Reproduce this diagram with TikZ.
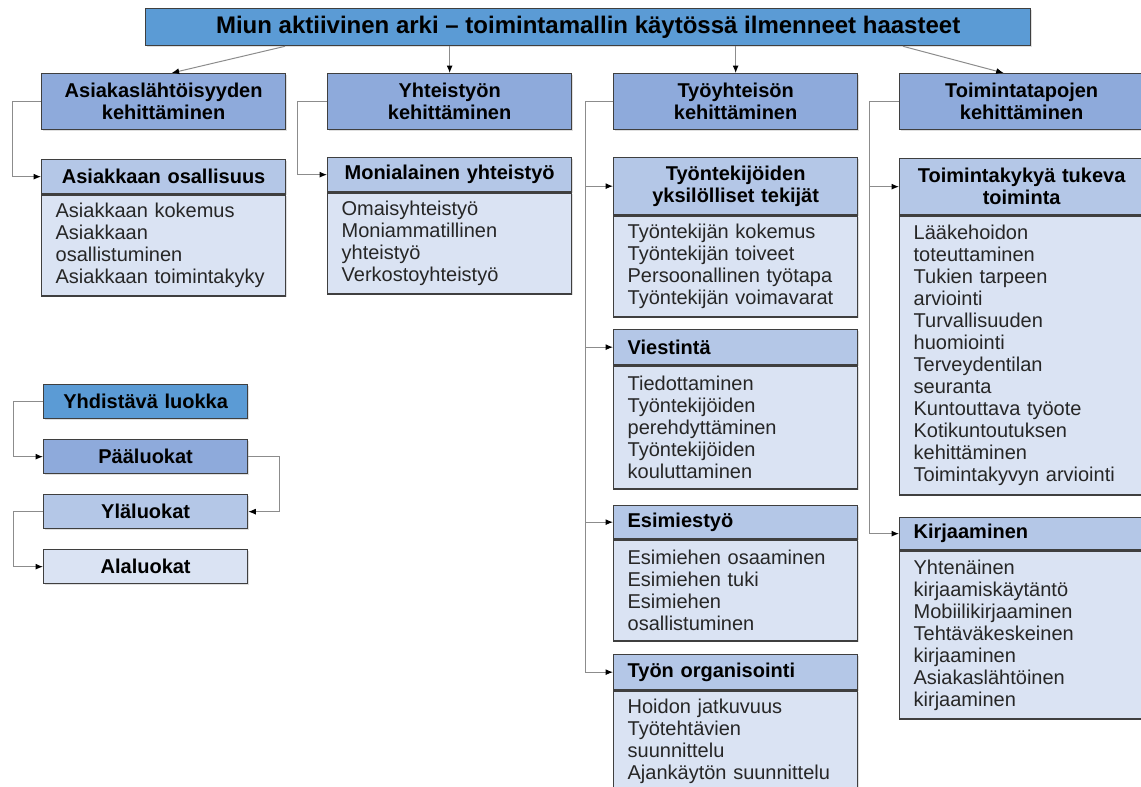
\documentclass[tikz,border=0pt]{standalone}
\usepackage{fontspec}
\setmainfont{Liberation Sans}
\usetikzlibrary{arrows.meta,shadows}
\definecolor{cTitle}{HTML}{5B9BD5}
\definecolor{cMain}{HTML}{8EAADB}
\definecolor{cUpper}{HTML}{B4C7E7}
\definecolor{cSub}{HTML}{DAE3F3}
\definecolor{cBorder}{HTML}{3F3F3F}
\definecolor{cLine}{HTML}{8C8C8C}
\begin{document}
\begin{tikzpicture}[x=1pt,y=-1pt,
  box/.style={draw=cBorder, line width=1.3pt, rectangle, inner sep=0pt, anchor=north west,
    drop shadow={opacity=0.25, shadow xshift=1.5pt, shadow yshift=-1.5pt}},
  bfont/.style={font=\bfseries\fontsize{20}{22}\selectfont},
  titlebox/.style={box, fill=cTitle, minimum width=885pt, minimum height=37pt,
    font=\bfseries\fontsize{24}{28}\selectfont},
  mainbox/.style={box, fill=cMain, text width=244pt, minimum height=56pt, align=center, bfont},
  hdrc/.style={box, fill=cUpper, text width=244pt, align=center, bfont},
  hdrl/.style={box, fill=cUpper, text width=216pt, inner xsep=14pt, align=left, bfont},
  bodybox/.style={box, fill=cSub, text width=216pt, inner xsep=14pt, align=left,
    text=black!85, font=\fontsize{20}{22}\selectfont},
  legbox/.style={box, text width=204pt, minimum height=34pt, align=center, bfont},
  conn/.style={draw=cLine, line width=1pt, -{Latex[length=7.5pt,width=6pt,color=black]}}
]
\useasboundingbox (0,0) rectangle (1141,787);

% title
\node[titlebox] (T) at (145,8) {Miun aktiivinen arki -- toimintamallin käytössä ilmenneet haasteet};

% main categories
\node[mainbox] (A) at (41,73) {Asiakaslähtöisyyden\\kehittäminen};
\node[mainbox] (B) at (327,73) {Yhteistyön\\kehittäminen};
\node[mainbox] (C) at (613,73) {Työyhteisön\\kehittäminen};
\node[mainbox] (D) at (899,73) {Toimintatapojen\\kehittäminen};

% column A
\node[hdrc, minimum height=34pt] (Ah) at (41,159) {Asiakkaan osallisuus};
\node[bodybox, minimum height=101pt] (Ab) at (Ah.south west) {Asiakkaan kokemus\\Asiakkaan\\osallistuminen\\Asiakkaan toimintakyky};

% column B
\node[hdrc, minimum height=34pt] (Bh) at (327,157) {Monialainen yhteistyö};
\node[bodybox, minimum height=101pt] (Bb) at (Bh.south west) {Omaisyhteistyö\\Moniammatillinen\\yhteistyö\\Verkostoyhteistyö};

% column C
\node[hdrc, minimum height=57pt] (C1h) at (613,157) {Työntekijöiden\\yksilölliset tekijät};
\node[bodybox, minimum height=101pt] (C1b) at (C1h.south west) {Työntekijän kokemus\\Työntekijän toiveet\\Persoonallinen työtapa\\Työntekijän voimavarat};
\node[hdrl, minimum height=35pt] (C2h) at (613,329) {Viestintä};
\node[bodybox, minimum height=123pt] (C2b) at (C2h.south west) {Tiedottaminen\\Työntekijöiden\\perehdyttäminen\\Työntekijöiden\\kouluttaminen};
\node[hdrl, minimum height=33pt] (C3h) at (613,505) {Esimiestyö};
\node[bodybox, minimum height=101pt] (C3b) at (C3h.south west) {Esimiehen osaaminen\\Esimiehen tuki\\Esimiehen\\osallistuminen};
\node[hdrl, minimum height=35pt] (C4h) at (613,654) {Työn organisointi};
\node[bodybox, minimum height=101pt] (C4b) at (C4h.south west) {Hoidon jatkuvuus\\Työtehtävien\\suunnittelu\\Ajankäytön suunnittelu};

% column D
\node[hdrc, minimum height=56pt] (D1h) at (899,158) {Toimintakykyä tukeva\\toiminta};
\node[bodybox, minimum height=279pt] (D1b) at (D1h.south west) {Lääkehoidon\\toteuttaminen\\Tukien tarpeen\\arviointi\\Turvallisuuden\\huomiointi\\Terveydentilan\\seuranta\\Kuntouttava työote\\Kotikuntoutuksen\\kehittäminen\\Toimintakyvyn arviointi};
\node[hdrl, minimum height=32pt] (D2h) at (899,517) {Kirjaaminen};
\node[bodybox, minimum height=168pt] (D2b) at (D2h.south west) {Yhtenäinen\\kirjaamiskäytäntö\\Mobiilikirjaaminen\\Tehtäväkeskeinen\\kirjaaminen\\Asiakaslähtöinen\\kirjaaminen};

% legend
\node[legbox, fill=cTitle] (L1) at (43,384) {Yhdistävä luokka};
\node[legbox, fill=cMain] (L2) at (43,439) {Pääluokat};
\node[legbox, fill=cUpper] (L3) at (43,494) {Yläluokat};
\node[legbox, fill=cSub] (L4) at (43,549) {Alaluokat};

% connectors from title
\draw[conn] ([xshift=140pt]T.south west) -- ([xshift=8pt]A.north);
\draw[conn] (T.south -| B.north) -- (B.north);
\draw[conn] (T.south -| C.north) -- (C.north);
\draw[conn] ([xshift=758pt]T.south west) -- ([xshift=-18pt]D.north);

% connectors to subcategories
\draw[conn] (A.west) -- ++(-29,0) |- (Ah.west);
\draw[conn] (B.west) -- ++(-30,0) |- (Bh.west);
\draw[conn] (C.west) -- ++(-28,0) |- (C1h.west);
\draw[conn] (C.west) -- ++(-28,0) |- (C2h.west);
\draw[conn] (C.west) -- ++(-28,0) |- (C3h.west);
\draw[conn] (C.west) -- ++(-28,0) |- (C4h.west);
\draw[conn] (D.west) -- ++(-30,0) |- (D1h.west);
\draw[conn] (D.west) -- ++(-30,0) |- (D2h.west);

% legend connectors
\draw[conn] (L1.west) -- ++(-30,0) |- (L2.west);
\draw[conn] (L2.east) -- ++(31,0) |- (L3.east);
\draw[conn] (L3.west) -- ++(-30,0) |- (L4.west);
\end{tikzpicture}
\end{document}
